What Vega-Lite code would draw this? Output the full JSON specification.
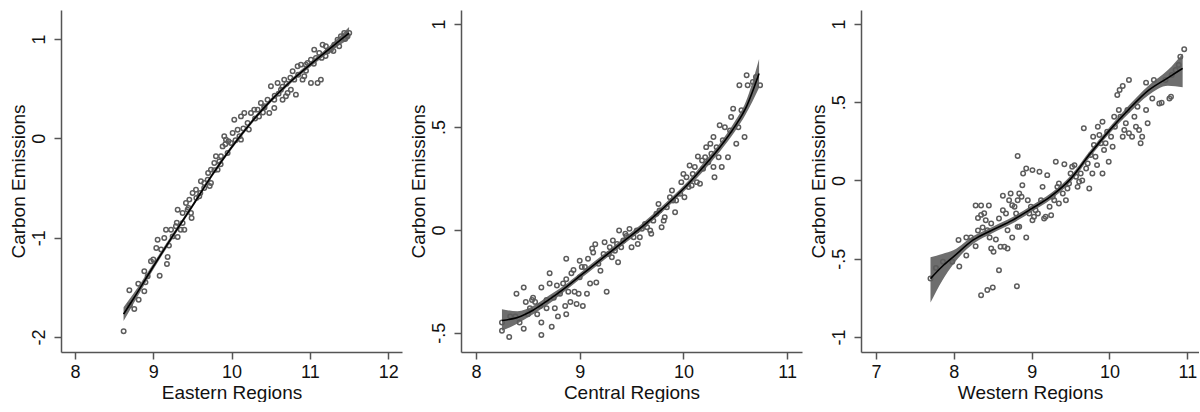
{
  "$schema": "https://vega.github.io/schema/vega-lite/v6.json",
  "padding": {"left": 9, "top": 10, "right": 0, "bottom": 0},
  "spacing": 7,
  "background": "white",
  "config": {
    "font": "Liberation Sans",
    "view": {"stroke": null},
    "axis": {
      "grid": false,
      "domainColor": "#555555",
      "domainWidth": 1.5,
      "tickColor": "#555555",
      "tickWidth": 1.5,
      "tickSize": 7,
      "labelFont": "Liberation Sans",
      "titleFont": "Liberation Sans",
      "labelFontSize": 18,
      "titleFontSize": 19,
      "labelColor": "#111111",
      "titleColor": "#111111",
      "titleFontWeight": "normal",
      "labelOverlap": false,
      "labelFlush": false
    },
    "axisX": {"labelPadding": 4, "titlePadding": 2, "labelExpr": "toString(datum.value)"},
    "axisY": {"labelAngle": -90, "labelAlign": "center", "labelBaseline": "alphabetic", "labelPadding": 10, "titlePadding": 6, "titleBaseline": "alphabetic"}
  },
  "datasets": {
    "east": [
      {"x": 8.621, "y": -1.943}, {"x": 8.694, "y": -1.53}, {"x": 8.757, "y": -1.718}, {"x": 8.813, "y": -1.624}, {"x": 8.808, "y": -1.463},
      {"x": 8.885, "y": -1.54}, {"x": 8.885, "y": -1.339}, {"x": 8.928, "y": -1.389}, {"x": 8.97, "y": -1.238}, {"x": 9.038, "y": -1.104},
      {"x": 9.055, "y": -1.02}, {"x": 9.081, "y": -1.383}, {"x": 9.14, "y": -1.003}, {"x": 9.162, "y": -0.92}, {"x": 9.183, "y": -1.195},
      {"x": 9.174, "y": -1.265}, {"x": 9.226, "y": -0.92}, {"x": 9.247, "y": -0.987}, {"x": 9.289, "y": -0.886}, {"x": 9.311, "y": -0.993},
      {"x": 9.311, "y": -0.718}, {"x": 9.374, "y": -0.752}, {"x": 9.374, "y": -0.852}, {"x": 9.396, "y": -0.92}, {"x": 9.417, "y": -0.651},
      {"x": 9.438, "y": -0.718}, {"x": 9.46, "y": -0.617}, {"x": 9.481, "y": -0.752}, {"x": 9.489, "y": -0.802}, {"x": 9.502, "y": -0.55},
      {"x": 9.545, "y": -0.517}, {"x": 9.587, "y": -0.584}, {"x": 9.608, "y": -0.433}, {"x": 9.651, "y": -0.45}, {"x": 9.694, "y": -0.416},
      {"x": 9.736, "y": -0.45}, {"x": 9.736, "y": -0.315}, {"x": 9.779, "y": -0.248}, {"x": 9.8, "y": -0.181}, {"x": 9.821, "y": -0.315},
      {"x": 9.843, "y": -0.232}, {"x": 9.864, "y": -0.181}, {"x": 9.885, "y": -0.081}, {"x": 9.906, "y": 0.02}, {"x": 9.928, "y": -0.013},
      {"x": 9.949, "y": -0.148}, {"x": 9.991, "y": -0.047}, {"x": 10.013, "y": 0.054}, {"x": 10.034, "y": 0.188}, {"x": 10.077, "y": 0.087},
      {"x": 10.119, "y": 0.221}, {"x": 10.119, "y": -0.013}, {"x": 10.162, "y": 0.255}, {"x": 10.204, "y": 0.154}, {"x": 10.247, "y": 0.255},
      {"x": 10.289, "y": 0.289}, {"x": 10.332, "y": 0.289}, {"x": 10.374, "y": 0.356}, {"x": 10.417, "y": 0.322}, {"x": 10.459, "y": 0.389},
      {"x": 10.481, "y": 0.255}, {"x": 10.502, "y": 0.524}, {"x": 10.545, "y": 0.305}, {"x": 10.545, "y": 0.389}, {"x": 10.587, "y": 0.557},
      {"x": 10.63, "y": 0.49}, {"x": 10.651, "y": 0.389}, {"x": 10.672, "y": 0.591}, {"x": 10.694, "y": 0.423}, {"x": 10.715, "y": 0.456},
      {"x": 10.757, "y": 0.49}, {"x": 10.779, "y": 0.675}, {"x": 10.8, "y": 0.591}, {"x": 10.821, "y": 0.44}, {"x": 10.843, "y": 0.725},
      {"x": 10.885, "y": 0.742}, {"x": 10.906, "y": 0.591}, {"x": 10.928, "y": 0.624}, {"x": 10.949, "y": 0.742}, {"x": 10.97, "y": 0.758},
      {"x": 11.013, "y": 0.792}, {"x": 11.013, "y": 0.557}, {"x": 11.055, "y": 0.893}, {"x": 11.077, "y": 0.809}, {"x": 11.098, "y": 0.557},
      {"x": 11.119, "y": 0.859}, {"x": 11.14, "y": 0.591}, {"x": 11.162, "y": 0.943}, {"x": 11.204, "y": 0.926}, {"x": 11.226, "y": 0.876},
      {"x": 11.268, "y": 0.893}, {"x": 11.311, "y": 0.943}, {"x": 11.353, "y": 0.993}, {"x": 11.374, "y": 0.926}, {"x": 11.396, "y": 1.027},
      {"x": 11.438, "y": 1.06}, {"x": 11.481, "y": 1.027}, {"x": 11.502, "y": 1.06},
      {"x": 9.6, "y": -0.55}, {"x": 9.7, "y": -0.35}, {"x": 9.72, "y": -0.48}, {"x": 9.78, "y": -0.32}, {"x": 9.86, "y": -0.26},
      {"x": 9.92, "y": -0.06}, {"x": 9.96, "y": -0.03}, {"x": 10.05, "y": -0.02}, {"x": 10.1, "y": 0.02}, {"x": 10.15, "y": 0.1},
      {"x": 10.22, "y": 0.09}, {"x": 10.3, "y": 0.2}, {"x": 10.35, "y": 0.22}, {"x": 10.4, "y": 0.26}, {"x": 10.42, "y": 0.31},
      {"x": 10.55, "y": 0.43}, {"x": 10.6, "y": 0.45}, {"x": 10.65, "y": 0.52}, {"x": 10.7, "y": 0.55}, {"x": 10.75, "y": 0.61},
      {"x": 10.85, "y": 0.64}, {"x": 10.95, "y": 0.68}, {"x": 11.05, "y": 0.75}, {"x": 11.15, "y": 0.81}, {"x": 11.2, "y": 0.83},
      {"x": 11.3, "y": 0.88}, {"x": 11.45, "y": 1.0}, {"x": 8.7, "y": -1.68}, {"x": 8.9, "y": -1.45}, {"x": 9.0, "y": -1.22},
      {"x": 9.1, "y": -1.12}, {"x": 9.2, "y": -1.08}, {"x": 9.3, "y": -0.85}, {"x": 9.35, "y": -0.92}, {"x": 9.45, "y": -0.7},
      {"x": 9.55, "y": -0.6}, {"x": 9.65, "y": -0.5}
    ],
    "eastFit": [
      {"x": 8.62, "fit": -1.77, "lo": -1.84, "hi": -1.7},
      {"x": 8.75, "fit": -1.61, "lo": -1.66, "hi": -1.56},
      {"x": 9.0, "fit": -1.29, "lo": -1.32, "hi": -1.26},
      {"x": 9.25, "fit": -0.98, "lo": -1.005, "hi": -0.955},
      {"x": 9.5, "fit": -0.68, "lo": -0.7, "hi": -0.66},
      {"x": 9.75, "fit": -0.37, "lo": -0.39, "hi": -0.35},
      {"x": 10.0, "fit": -0.09, "lo": -0.11, "hi": -0.07},
      {"x": 10.25, "fit": 0.16, "lo": 0.14, "hi": 0.18},
      {"x": 10.5, "fit": 0.38, "lo": 0.36, "hi": 0.4},
      {"x": 10.75, "fit": 0.57, "lo": 0.55, "hi": 0.59},
      {"x": 11.0, "fit": 0.74, "lo": 0.715, "hi": 0.765},
      {"x": 11.25, "fit": 0.9, "lo": 0.87, "hi": 0.93},
      {"x": 11.5, "fit": 1.06, "lo": 1.0, "hi": 1.12}
    ],
    "central": [
      {"x": 8.25, "y": -0.49}, {"x": 8.25, "y": -0.45}, {"x": 8.32, "y": -0.52}, {"x": 8.33, "y": -0.42}, {"x": 8.38, "y": -0.42},
      {"x": 8.39, "y": -0.31}, {"x": 8.42, "y": -0.45}, {"x": 8.46, "y": -0.28}, {"x": 8.46, "y": -0.48}, {"x": 8.48, "y": -0.35},
      {"x": 8.5, "y": -0.41}, {"x": 8.52, "y": -0.38}, {"x": 8.54, "y": -0.34}, {"x": 8.55, "y": -0.33}, {"x": 8.57, "y": -0.35},
      {"x": 8.59, "y": -0.41}, {"x": 8.62, "y": -0.37}, {"x": 8.63, "y": -0.28}, {"x": 8.63, "y": -0.45}, {"x": 8.63, "y": -0.51},
      {"x": 8.68, "y": -0.34}, {"x": 8.68, "y": -0.38}, {"x": 8.71, "y": -0.21}, {"x": 8.71, "y": -0.26}, {"x": 8.73, "y": -0.47},
      {"x": 8.75, "y": -0.33}, {"x": 8.76, "y": -0.38}, {"x": 8.78, "y": -0.27}, {"x": 8.79, "y": -0.42}, {"x": 8.81, "y": -0.31},
      {"x": 8.84, "y": -0.26}, {"x": 8.86, "y": -0.37}, {"x": 8.87, "y": -0.14}, {"x": 8.87, "y": -0.24}, {"x": 8.87, "y": -0.41},
      {"x": 8.89, "y": -0.3}, {"x": 8.91, "y": -0.35}, {"x": 8.92, "y": -0.21}, {"x": 8.94, "y": -0.195}, {"x": 8.95, "y": -0.3},
      {"x": 8.97, "y": -0.36}, {"x": 8.99, "y": -0.31}, {"x": 9.0, "y": -0.15}, {"x": 9.02, "y": -0.18}, {"x": 9.0, "y": -0.23},
      {"x": 9.03, "y": -0.37}, {"x": 9.05, "y": -0.18}, {"x": 9.07, "y": -0.31}, {"x": 9.08, "y": -0.14}, {"x": 9.1, "y": -0.26},
      {"x": 9.12, "y": -0.09}, {"x": 9.13, "y": -0.11}, {"x": 9.15, "y": -0.07}, {"x": 9.16, "y": -0.255}, {"x": 9.18, "y": -0.165},
      {"x": 9.2, "y": -0.198}, {"x": 9.23, "y": -0.117}, {"x": 9.24, "y": -0.06}, {"x": 9.26, "y": -0.3}, {"x": 9.28, "y": -0.117},
      {"x": 9.29, "y": -0.084}, {"x": 9.31, "y": -0.133}, {"x": 9.32, "y": -0.052}, {"x": 9.34, "y": -0.101}, {"x": 9.36, "y": -0.068},
      {"x": 9.37, "y": -0.157}, {"x": 9.38, "y": -0.003}, {"x": 9.4, "y": -0.084}, {"x": 9.42, "y": -0.052}, {"x": 9.44, "y": -0.019},
      {"x": 9.45, "y": -0.03}, {"x": 9.48, "y": 0.005}, {"x": 9.5, "y": -0.084}, {"x": 9.52, "y": -0.036}, {"x": 9.55, "y": -0.003},
      {"x": 9.56, "y": -0.068}, {"x": 9.58, "y": -0.036}, {"x": 9.6, "y": 0.005}, {"x": 9.63, "y": 0.029}, {"x": 9.65, "y": 0.013},
      {"x": 9.68, "y": -0.003}, {"x": 9.69, "y": -0.019}, {"x": 9.71, "y": 0.045}, {"x": 9.74, "y": 0.078}, {"x": 9.76, "y": 0.126},
      {"x": 9.77, "y": 0.094}, {"x": 9.79, "y": 0.013}, {"x": 9.81, "y": 0.045}, {"x": 9.82, "y": 0.062}, {"x": 9.84, "y": 0.11},
      {"x": 9.87, "y": 0.159}, {"x": 9.89, "y": 0.191}, {"x": 9.9, "y": 0.143}, {"x": 9.92, "y": 0.086}, {"x": 9.93, "y": 0.143},
      {"x": 9.97, "y": 0.175}, {"x": 9.98, "y": 0.232}, {"x": 10.0, "y": 0.272}, {"x": 10.01, "y": 0.159}, {"x": 10.03, "y": 0.256},
      {"x": 10.05, "y": 0.208}, {"x": 10.06, "y": 0.313}, {"x": 10.08, "y": 0.216}, {"x": 10.09, "y": 0.272}, {"x": 10.11, "y": 0.305},
      {"x": 10.13, "y": 0.232}, {"x": 10.14, "y": 0.357}, {"x": 10.16, "y": 0.224}, {"x": 10.18, "y": 0.337}, {"x": 10.19, "y": 0.297},
      {"x": 10.21, "y": 0.353}, {"x": 10.22, "y": 0.402}, {"x": 10.24, "y": 0.329}, {"x": 10.26, "y": 0.418}, {"x": 10.27, "y": 0.37},
      {"x": 10.29, "y": 0.305}, {"x": 10.29, "y": 0.451}, {"x": 10.3, "y": 0.256}, {"x": 10.32, "y": 0.402}, {"x": 10.34, "y": 0.353},
      {"x": 10.35, "y": 0.508}, {"x": 10.37, "y": 0.305}, {"x": 10.38, "y": 0.435}, {"x": 10.4, "y": 0.499}, {"x": 10.43, "y": 0.353},
      {"x": 10.45, "y": 0.483}, {"x": 10.46, "y": 0.548}, {"x": 10.48, "y": 0.589}, {"x": 10.51, "y": 0.418}, {"x": 10.53, "y": 0.499},
      {"x": 10.56, "y": 0.581}, {"x": 10.59, "y": 0.451}, {"x": 10.54, "y": 0.702}, {"x": 10.61, "y": 0.751}, {"x": 10.62, "y": 0.702},
      {"x": 10.67, "y": 0.718}, {"x": 10.74, "y": 0.702}, {"x": 10.7, "y": 0.743}
    ],
    "centralFit": [
      {"x": 8.25, "fit": -0.44, "lo": -0.49, "hi": -0.385},
      {"x": 8.4, "fit": -0.425, "lo": -0.455, "hi": -0.395},
      {"x": 8.55, "fit": -0.39, "lo": -0.41, "hi": -0.37},
      {"x": 8.7, "fit": -0.34, "lo": -0.36, "hi": -0.32},
      {"x": 8.85, "fit": -0.285, "lo": -0.3, "hi": -0.27},
      {"x": 9.0, "fit": -0.225, "lo": -0.24, "hi": -0.21},
      {"x": 9.15, "fit": -0.165, "lo": -0.18, "hi": -0.15},
      {"x": 9.3, "fit": -0.105, "lo": -0.12, "hi": -0.09},
      {"x": 9.45, "fit": -0.045, "lo": -0.06, "hi": -0.03},
      {"x": 9.6, "fit": 0.015, "lo": 0.0, "hi": 0.03},
      {"x": 9.75, "fit": 0.08, "lo": 0.065, "hi": 0.095},
      {"x": 9.9, "fit": 0.15, "lo": 0.135, "hi": 0.165},
      {"x": 10.05, "fit": 0.225, "lo": 0.21, "hi": 0.24},
      {"x": 10.2, "fit": 0.31, "lo": 0.29, "hi": 0.33},
      {"x": 10.35, "fit": 0.4, "lo": 0.38, "hi": 0.42},
      {"x": 10.5, "fit": 0.505, "lo": 0.48, "hi": 0.53},
      {"x": 10.6, "fit": 0.59, "lo": 0.56, "hi": 0.62},
      {"x": 10.73, "fit": 0.76, "lo": 0.69, "hi": 0.83}
    ],
    "west": [
      {"x": 7.7, "y": -0.627}, {"x": 7.77, "y": -0.56}, {"x": 7.86, "y": -0.52}, {"x": 7.98, "y": -0.52}, {"x": 8.07, "y": -0.55},
      {"x": 8.06, "y": -0.38}, {"x": 8.16, "y": -0.48}, {"x": 8.16, "y": -0.365}, {"x": 8.22, "y": -0.365}, {"x": 8.28, "y": -0.42},
      {"x": 8.28, "y": -0.16}, {"x": 8.35, "y": -0.16}, {"x": 8.45, "y": -0.16}, {"x": 8.31, "y": -0.32}, {"x": 8.31, "y": -0.24},
      {"x": 8.35, "y": -0.22}, {"x": 8.37, "y": -0.3}, {"x": 8.39, "y": -0.21}, {"x": 8.41, "y": -0.254}, {"x": 8.43, "y": -0.318},
      {"x": 8.46, "y": -0.365}, {"x": 8.48, "y": -0.275}, {"x": 8.35, "y": -0.733}, {"x": 8.43, "y": -0.7}, {"x": 8.5, "y": -0.684},
      {"x": 8.48, "y": -0.435}, {"x": 8.51, "y": -0.456}, {"x": 8.54, "y": -0.377}, {"x": 8.58, "y": -0.574}, {"x": 8.6, "y": -0.424},
      {"x": 8.65, "y": -0.424}, {"x": 8.69, "y": -0.435}, {"x": 8.63, "y": -0.098}, {"x": 8.58, "y": -0.243}, {"x": 8.63, "y": -0.19},
      {"x": 8.67, "y": -0.211}, {"x": 8.69, "y": -0.318}, {"x": 8.71, "y": -0.126}, {"x": 8.73, "y": -0.083}, {"x": 8.75, "y": -0.158},
      {"x": 8.78, "y": -0.168}, {"x": 8.8, "y": -0.211}, {"x": 8.82, "y": -0.126}, {"x": 8.84, "y": -0.083}, {"x": 8.75, "y": -0.365},
      {"x": 8.81, "y": -0.676}, {"x": 8.82, "y": 0.156}, {"x": 8.82, "y": -0.296}, {"x": 8.84, "y": -0.296}, {"x": 8.87, "y": -0.104},
      {"x": 8.88, "y": -0.03}, {"x": 8.89, "y": 0.045}, {"x": 8.93, "y": 0.077}, {"x": 8.95, "y": -0.126}, {"x": 8.97, "y": -0.211},
      {"x": 8.99, "y": -0.168}, {"x": 9.01, "y": -0.254}, {"x": 9.01, "y": 0.066}, {"x": 9.03, "y": -0.232}, {"x": 8.93, "y": -0.365},
      {"x": 9.05, "y": -0.19}, {"x": 9.08, "y": -0.211}, {"x": 9.1, "y": 0.055}, {"x": 9.12, "y": -0.126}, {"x": 9.14, "y": -0.041},
      {"x": 9.16, "y": -0.243}, {"x": 9.18, "y": -0.232}, {"x": 9.2, "y": 0.034}, {"x": 9.23, "y": -0.168}, {"x": 9.25, "y": -0.222},
      {"x": 9.27, "y": -0.104}, {"x": 9.29, "y": -0.126}, {"x": 9.31, "y": 0.119}, {"x": 9.33, "y": -0.041}, {"x": 9.35, "y": -0.147},
      {"x": 9.35, "y": -0.019}, {"x": 9.4, "y": -0.083}, {"x": 9.42, "y": 0.104}, {"x": 9.44, "y": -0.126}, {"x": 9.46, "y": -0.051},
      {"x": 9.48, "y": -0.019}, {"x": 9.5, "y": 0.045}, {"x": 9.52, "y": 0.087}, {"x": 9.55, "y": 0.098}, {"x": 9.57, "y": 0.023},
      {"x": 9.59, "y": -0.041}, {"x": 9.61, "y": -0.009}, {"x": 9.63, "y": 0.045}, {"x": 9.65, "y": 0.0}, {"x": 9.67, "y": 0.333},
      {"x": 9.7, "y": 0.077}, {"x": 9.72, "y": 0.109}, {"x": 9.74, "y": -0.051}, {"x": 9.76, "y": 0.162}, {"x": 9.78, "y": 0.045},
      {"x": 9.79, "y": 0.279}, {"x": 9.8, "y": 0.226}, {"x": 9.82, "y": 0.151}, {"x": 9.84, "y": 0.098}, {"x": 9.85, "y": 0.343},
      {"x": 9.87, "y": 0.29}, {"x": 9.89, "y": 0.237}, {"x": 9.91, "y": 0.375}, {"x": 9.91, "y": 0.045}, {"x": 9.93, "y": 0.194},
      {"x": 9.95, "y": 0.237}, {"x": 9.97, "y": 0.311}, {"x": 9.99, "y": 0.119}, {"x": 10.02, "y": 0.279}, {"x": 10.04, "y": 0.215},
      {"x": 10.06, "y": 0.407}, {"x": 10.07, "y": 0.343}, {"x": 10.1, "y": 0.546}, {"x": 10.13, "y": 0.578}, {"x": 10.17, "y": 0.603},
      {"x": 10.25, "y": 0.642}, {"x": 10.12, "y": 0.45}, {"x": 10.14, "y": 0.407}, {"x": 10.17, "y": 0.279}, {"x": 10.19, "y": 0.322},
      {"x": 10.21, "y": 0.365}, {"x": 10.23, "y": 0.45}, {"x": 10.25, "y": 0.301}, {"x": 10.29, "y": 0.279}, {"x": 10.32, "y": 0.407},
      {"x": 10.34, "y": 0.343}, {"x": 10.36, "y": 0.471}, {"x": 10.38, "y": 0.322}, {"x": 10.4, "y": 0.237}, {"x": 10.42, "y": 0.279},
      {"x": 10.47, "y": 0.45}, {"x": 10.49, "y": 0.365}, {"x": 10.47, "y": 0.625}, {"x": 10.57, "y": 0.642}, {"x": 10.55, "y": 0.524},
      {"x": 10.64, "y": 0.492}, {"x": 10.67, "y": 0.497}, {"x": 10.77, "y": 0.524}, {"x": 10.79, "y": 0.535}, {"x": 10.72, "y": 0.642},
      {"x": 10.8, "y": 0.674}, {"x": 10.85, "y": 0.706}, {"x": 10.89, "y": 0.738}, {"x": 10.91, "y": 0.791}, {"x": 10.96, "y": 0.838}
    ],
    "westFit": [
      {"x": 7.7, "fit": -0.627, "lo": -0.78, "hi": -0.49},
      {"x": 7.85, "fit": -0.55, "lo": -0.64, "hi": -0.47},
      {"x": 8.0, "fit": -0.485, "lo": -0.53, "hi": -0.445},
      {"x": 8.25, "fit": -0.38, "lo": -0.405, "hi": -0.355},
      {"x": 8.5, "fit": -0.315, "lo": -0.335, "hi": -0.295},
      {"x": 8.75, "fit": -0.255, "lo": -0.275, "hi": -0.235},
      {"x": 9.0, "fit": -0.18, "lo": -0.2, "hi": -0.16},
      {"x": 9.25, "fit": -0.1, "lo": -0.12, "hi": -0.08},
      {"x": 9.5, "fit": 0.01, "lo": -0.01, "hi": 0.03},
      {"x": 9.75, "fit": 0.17, "lo": 0.15, "hi": 0.19},
      {"x": 10.0, "fit": 0.32, "lo": 0.3, "hi": 0.34},
      {"x": 10.25, "fit": 0.455, "lo": 0.43, "hi": 0.48},
      {"x": 10.5, "fit": 0.575, "lo": 0.545, "hi": 0.605},
      {"x": 10.75, "fit": 0.655, "lo": 0.605, "hi": 0.705},
      {"x": 10.94, "fit": 0.716, "lo": 0.595, "hi": 0.81}
    ]
  },
  "hconcat": [
    {
      "width": 341, "height": 342,
      "layer": [
        {"data": {"name": "eastFit"}, "mark": {"type": "area", "color": "#6e6e6e", "interpolate": "monotone"},
         "encoding": {
           "x": {"field": "x", "type": "quantitative", "scale": {"domain": [7.821, 12.176], "nice": false, "zero": false}, "axis": {"title": "Eastern Regions", "values": [8, 9, 10, 11, 12]}},
           "y": {"field": "lo", "type": "quantitative", "scale": {"domain": [-2.151, 1.292], "nice": false, "zero": false}, "axis": {"title": "Carbon Emissions", "values": [-2, -1, 0, 1], "labelExpr": "datum.value == 0 ? '0' : (datum.value < 0 ? '-' : '') + replace(toString(abs(datum.value)), '0.', '.')"}},
           "y2": {"field": "hi"}}},
        {"data": {"name": "east"}, "mark": {"type": "point", "shape": "circle", "filled": false, "stroke": "#5c5c5c", "strokeWidth": 1.5, "size": 20, "opacity": 1},
         "encoding": {"x": {"field": "x", "type": "quantitative"}, "y": {"field": "y", "type": "quantitative"}}},
        {"data": {"name": "eastFit"}, "mark": {"type": "line", "color": "#000000", "strokeWidth": 1.6, "interpolate": "monotone"},
         "encoding": {"x": {"field": "x", "type": "quantitative"}, "y": {"field": "fit", "type": "quantitative"}}}
      ]
    },
    {
      "width": 341, "height": 342,
      "layer": [
        {"data": {"name": "centralFit"}, "mark": {"type": "area", "color": "#6e6e6e", "interpolate": "monotone"},
         "encoding": {
           "x": {"field": "x", "type": "quantitative", "scale": {"domain": [7.855, 11.144], "nice": false, "zero": false}, "axis": {"title": "Central Regions", "values": [8, 9, 10, 11]}},
           "y": {"field": "lo", "type": "quantitative", "scale": {"domain": [-0.593, 1.068], "nice": false, "zero": false}, "axis": {"title": "Carbon Emissions", "values": [-0.5, 0, 0.5, 1], "labelExpr": "datum.value == 0 ? '0' : (datum.value < 0 ? '-' : '') + replace(toString(abs(datum.value)), '0.', '.')"}},
           "y2": {"field": "hi"}}},
        {"data": {"name": "central"}, "mark": {"type": "point", "shape": "circle", "filled": false, "stroke": "#5c5c5c", "strokeWidth": 1.5, "size": 20, "opacity": 1},
         "encoding": {"x": {"field": "x", "type": "quantitative"}, "y": {"field": "y", "type": "quantitative"}}},
        {"data": {"name": "centralFit"}, "mark": {"type": "line", "color": "#000000", "strokeWidth": 1.6, "interpolate": "monotone"},
         "encoding": {"x": {"field": "x", "type": "quantitative"}, "y": {"field": "fit", "type": "quantitative"}}}
      ]
    },
    {
      "width": 338, "height": 342,
      "layer": [
        {"data": {"name": "westFit"}, "mark": {"type": "area", "color": "#6e6e6e", "interpolate": "monotone"},
         "encoding": {
           "x": {"field": "x", "type": "quantitative", "scale": {"domain": [6.807, 11.15], "nice": false, "zero": false}, "axis": {"title": "Western Regions", "values": [7, 8, 9, 10, 11]}},
           "y": {"field": "lo", "type": "quantitative", "scale": {"domain": [-1.096, 1.089], "nice": false, "zero": false}, "axis": {"title": "Carbon Emissions", "values": [-1, -0.5, 0, 0.5, 1], "labelExpr": "datum.value == 0 ? '0' : (datum.value < 0 ? '-' : '') + replace(toString(abs(datum.value)), '0.', '.')"}},
           "y2": {"field": "hi"}}},
        {"data": {"name": "west"}, "mark": {"type": "point", "shape": "circle", "filled": false, "stroke": "#5c5c5c", "strokeWidth": 1.5, "size": 20, "opacity": 1},
         "encoding": {"x": {"field": "x", "type": "quantitative"}, "y": {"field": "y", "type": "quantitative"}}},
        {"data": {"name": "westFit"}, "mark": {"type": "line", "color": "#000000", "strokeWidth": 1.6, "interpolate": "monotone"},
         "encoding": {"x": {"field": "x", "type": "quantitative"}, "y": {"field": "fit", "type": "quantitative"}}}
      ]
    }
  ]
}
